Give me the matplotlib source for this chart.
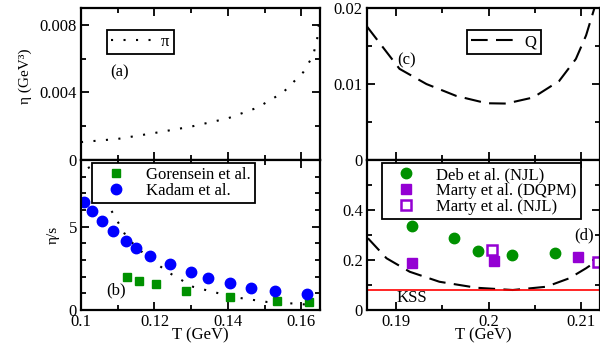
import matplotlib
matplotlib.use("Agg")
import matplotlib.pyplot as plt
from matplotlib.ticker import MultipleLocator, FormatStrFormatter

plt.rcParams['font.family'] = ['Liberation Serif', 'DejaVu Serif']
plt.rcParams['font.size'] = 12

# panel (a): eta of pion gas
T_pi = [0.100, 0.110, 0.120, 0.130, 0.140, 0.148, 0.155, 0.1605, 0.1632, 0.1643, 0.165]
eta_pi = [0.00106, 0.00125, 0.00160, 0.00198, 0.00247, 0.0031, 0.0040, 0.0052, 0.0062, 0.0072, 0.0085]

# panel (b): eta/s of pion gas
T_pi_s = [0.102, 0.105, 0.107, 0.1125, 0.118, 0.124, 0.1305, 0.1415, 0.1507, 0.157, 0.163]
etas_pi = [8.6, 7.3, 6.45, 4.34, 3.19, 2.23, 1.39, 0.78, 0.48, 0.40, 0.30]

T_gor = [0.1124, 0.1159, 0.1203, 0.1286, 0.1406, 0.1533, 0.1620]
etas_gor = [1.97, 1.77, 1.55, 1.16, 0.78, 0.54, 0.46]

T_kad = [0.1008, 0.1029, 0.1056, 0.1086, 0.1123, 0.1149, 0.1188, 0.1241,
         0.1299, 0.1346, 0.1406, 0.1463, 0.1528, 0.1615]
etas_kad = [6.49, 5.92, 5.32, 4.76, 4.16, 3.75, 3.27, 2.75,
            2.27, 1.95, 1.61, 1.34, 1.14, 0.95]

# panel (c): eta of quark matter
T_q = [0.1869, 0.1904, 0.1933, 0.1965, 0.1998, 0.2019, 0.2048, 0.2076, 0.2094, 0.2105, 0.2114]
eta_q = [0.01756, 0.0120, 0.0100, 0.00844, 0.00747, 0.00743, 0.00823, 0.0104, 0.0133, 0.0164, 0.0200]

# panel (d): eta/s of quark matter
T_q_s = [0.1870, 0.1890, 0.1915, 0.1947, 0.1987, 0.2026, 0.2062, 0.2087, 0.2105, 0.2118]
etas_q = [0.287, 0.207, 0.153, 0.113, 0.089, 0.080, 0.093, 0.127, 0.167, 0.200]

T_deb = [0.1917, 0.1963, 0.1989, 0.2025, 0.2072]
etas_deb = [0.337, 0.287, 0.236, 0.220, 0.227]

T_dqpm = [0.1917, 0.2006, 0.2096]
etas_dqpm = [0.187, 0.196, 0.213]

T_mnjl = [0.2004, 0.2118]
etas_mnjl = [0.240, 0.193]

kss = 0.08

green = '#009100'
purple = '#9400d3'

fig = plt.figure(figsize=(6, 3.43), dpi=100)
ax_a = fig.add_axes([0.135, 0.5335, 0.398, 0.443])
ax_b = fig.add_axes([0.135, 0.0962, 0.398, 0.4373])
ax_c = fig.add_axes([0.6117, 0.5335, 0.3883, 0.443])
ax_d = fig.add_axes([0.6117, 0.0962, 0.3883, 0.4373])

dot = (0, (1, 5))
dash = (0, (8, 4))
leg_kw = dict(loc='upper left', borderaxespad=0, fontsize=12, labelspacing=0.0,
              borderpad=0.25, handletextpad=0.6)

# (a)
ax_a.plot(T_pi, eta_pi, color='k', lw=1.5, ls=dot, label='π')
ax_a.set_xlim(0.1, 0.165)
ax_a.set_ylim(0, 0.009)
ax_a.yaxis.set_major_locator(MultipleLocator(0.004))
ax_a.yaxis.set_minor_locator(MultipleLocator(0.002))
ax_a.set_ylabel('η (GeV³)', fontsize=11)
ax_a.text(0.1079, 0.0052, '(a)', ha='left', va='center')
ax_a.legend(bbox_to_anchor=(0.109, 0.855), handlelength=2.4, **leg_kw)

# (b)
ax_b.plot(T_pi_s, etas_pi, color='k', lw=1.5, ls=dot)
ax_b.plot(T_gor, etas_gor, 's', color=green, ms=6, ls='none', label='Gorensein et al.')
ax_b.plot(T_kad, etas_kad, 'o', color='blue', ms=7.5, ls='none', label='Kadam et al.')
ax_b.set_xlim(0.1, 0.165)
ax_b.set_ylim(0, 9)
ax_b.yaxis.set_major_locator(MultipleLocator(5))
ax_b.yaxis.set_minor_locator(MultipleLocator(1))
ax_b.set_xticks([0.1, 0.12, 0.14, 0.16])
ax_b.set_ylabel('η/s', fontsize=11)
ax_b.set_xlabel('T (GeV)', labelpad=-2)
ax_b.text(0.1068, 1.2, '(b)', ha='left', va='center')
ax_b.legend(bbox_to_anchor=(0.046, 0.98), numpoints=1, handlelength=2.4, **leg_kw)

# (c)
ax_c.plot(T_q, eta_q, color='k', lw=1.5, ls=dash, label='Q')
ax_c.set_xlim(0.1869, 0.212)
ax_c.set_ylim(0, 0.02)
ax_c.yaxis.set_major_locator(MultipleLocator(0.01))
ax_c.yaxis.set_minor_locator(MultipleLocator(0.005))
ax_c.text(0.1902, 0.0131, '(c)', ha='left', va='center')
ax_c.legend(bbox_to_anchor=(0.429, 0.855), handlelength=2.6, **leg_kw)

# (d)
ax_d.plot(T_q_s, etas_q, color='k', lw=1.5, ls=dash)
ax_d.axhline(kss, color='red', lw=1.2)
ax_d.plot(T_deb, etas_deb, 'o', color=green, ms=7.5, ls='none', label='Deb et al. (NJL)')
ax_d.plot(T_dqpm, etas_dqpm, 's', color=purple, ms=6.5, ls='none', label='Marty et al. (DQPM)')
ax_d.plot(T_mnjl, etas_mnjl, 's', mfc='white', mec=purple, mew=1.8, ms=6.5, ls='none',
          label='Marty et al. (NJL)')
ax_d.set_xlim(0.1869, 0.212)
ax_d.set_ylim(0, 0.6)
ax_d.set_yticks([0, 0.2, 0.4])
ax_d.yaxis.set_minor_locator(MultipleLocator(0.1))
ax_d.set_xticks([0.19, 0.2, 0.21])
ax_d.set_xlabel('T (GeV)', labelpad=-2)
ax_d.text(0.1901, 0.05, 'KSS', ha='left', va='center')
ax_d.text(0.2092, 0.30, '(d)', ha='left', va='center')
ax_d.legend(bbox_to_anchor=(0.064, 0.98), numpoints=1, handlelength=2.4, **leg_kw)

for ax in (ax_a, ax_b):
    ax.xaxis.set_major_locator(MultipleLocator(0.02))
    ax.xaxis.set_minor_locator(MultipleLocator(0.01))
for ax in (ax_c, ax_d):
    ax.xaxis.set_minor_locator(MultipleLocator(0.005))

for ax in (ax_a, ax_b, ax_c, ax_d):
    ax.tick_params(which='both', direction='in', top=True, right=True, width=1.3, pad=3)
    ax.tick_params(which='major', length=6)
    ax.tick_params(which='minor', length=3.5)
    ax.xaxis.set_major_formatter(FormatStrFormatter('%g'))
    ax.yaxis.set_major_formatter(FormatStrFormatter('%g'))
    for s in ax.spines.values():
        s.set_linewidth(1.6)
    leg = ax.get_legend()
    if leg is not None:
        leg.get_frame().set_edgecolor('k')
        leg.get_frame().set_linewidth(1.3)
        leg.get_frame().set_boxstyle('square', pad=0)
        leg.get_frame().set_alpha(1)

for ax in (ax_a, ax_c):
    ax.tick_params(labelbottom=False)

# axis label positions (label anchor is the right side of the rotated text)
ax_a.yaxis.set_label_coords(-0.205, 0.55)
ax_b.yaxis.set_label_coords(-0.09, 0.5)

fig.savefig('out.png', dpi=100)
